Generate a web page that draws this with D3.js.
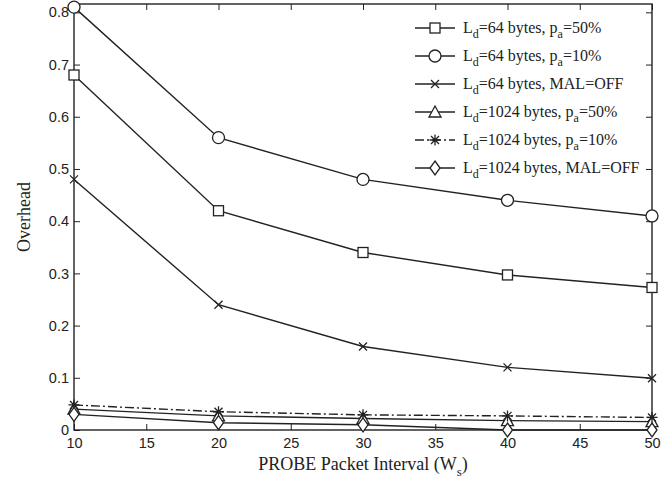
<!DOCTYPE html>
<html>
<head>
<meta charset="utf-8">
<script src="https://cdn.jsdelivr.net/npm/d3@7"></script>
<style>
  body { margin: 0; background: #fff; }
  .axis text { font-family: "Liberation Sans", Arial, sans-serif; font-size: 14.5px; fill: #222; }
  .ttl { font-family: "Liberation Serif", "Times New Roman", serif; fill: #222; }
</style>
</head>
<body>
<div id="chart"></div>
<script>
// probe intervals (x)
var intervals = [10, 20, 30, 40, 50]

// overhead per series
var ld64pa50   = [0.68, 0.42, 0.34, 0.297, 0.273]
var ld64pa10   = [0.81, 0.56, 0.48, 0.44, 0.41]
var ld64off    = [0.48, 0.24, 0.16, 0.12, 0.099]
var ld1024pa50 = [0.040, 0.027, 0.022, 0.018, 0.016]
var ld1024pa10 = [0.048, 0.035, 0.029, 0.027, 0.024]
var ld1024off  = [0.030, 0.014, 0.010, 0.0, 0.0]

var xTicks = [10, 15, 20, 25, 30, 35, 40, 45, 50]
var yTicks = [0, 0.1, 0.2, 0.3, 0.4, 0.5, 0.6, 0.7, 0.8]

var series = [
  { ld: "64",   tail: ["p", "a", "=50%"], vals: ld64pa50,   mark: "square" },
  { ld: "64",   tail: ["p", "a", "=10%"], vals: ld64pa10,   mark: "circle" },
  { ld: "64",   tail: ["MAL=OFF"],        vals: ld64off,    mark: "x" },
  { ld: "1024", tail: ["p", "a", "=50%"], vals: ld1024pa50, mark: "triangle" },
  { ld: "1024", tail: ["p", "a", "=10%"], vals: ld1024pa10, mark: "star", dash: "9,3,2,3" },
  { ld: "1024", tail: ["MAL=OFF"],        vals: ld1024off,  mark: "diamond" }
]

var W = 670, H = 479
var margin = {top: 4, right: 18, bottom: 49, left: 74},
    width  = W - margin.left - margin.right,
    height = H - margin.top - margin.bottom
var ink = "#222"

var svg = d3.select("#chart").append("svg")
  .attr("width", W)
  .attr("height", H)

var g = svg.append("g")
  .attr("transform", "translate(" + margin.left + "," + margin.top + ")")

var x = d3.scaleLinear().domain([10, 50]).range([0, width])
var y = d3.scaleLinear().domain([0, 0.816]).range([height, 0])

// axes, ticks pointing inward like matlab
g.append("g")
  .attr("class", "axis x")
  .attr("transform", "translate(0," + height + ")")
  .call(d3.axisBottom(x).tickValues(xTicks).tickSizeInner(-6).tickSizeOuter(0).tickPadding(8))
g.append("g")
  .attr("class", "axis y")
  .call(d3.axisLeft(y).tickValues(yTicks).tickSizeInner(-6).tickSizeOuter(0).tickPadding(5).tickFormat(d => d === 0 ? "0" : d3.format(".1f")(d)))
g.append("g")
  .attr("class", "axis")
  .call(d3.axisTop(x).tickValues(xTicks).tickSizeInner(-6).tickSizeOuter(0).tickFormat(""))
g.append("g")
  .attr("class", "axis")
  .attr("transform", "translate(" + width + ",0)")
  .call(d3.axisRight(y).tickValues(yTicks).tickSizeInner(-6).tickSizeOuter(0).tickFormat(""))

g.selectAll(".axis path").remove()
g.selectAll(".axis line").attr("stroke", ink).attr("stroke-width", 1)

g.append("rect")
  .attr("width", width)
  .attr("height", height)
  .attr("fill", "none")
  .attr("stroke", ink)
  .attr("stroke-width", 1.4)

function marker(sel, kind) {
  if (kind == "circle") {
    sel.append("circle").attr("r", 6)
  } else if (kind == "square") {
    sel.append("rect").attr("x", -5).attr("y", -5).attr("width", 10).attr("height", 10)
  } else if (kind == "triangle") {
    sel.append("path").attr("d", "M0,-6L6,5L-6,5Z")
  } else if (kind == "diamond") {
    sel.append("path").attr("d", "M0,-7L5,0L0,7L-5,0Z")
  } else if (kind == "x") {
    sel.append("path").attr("d", "M-4,-4L4,4M-4,4L4,-4")
  } else if (kind == "star") {
    sel.append("path").attr("d", "M-5.5,0L5.5,0M0,-5.5L0,5.5M-4,-4L4,4M-4,4L4,-4")
  }
  sel.selectAll("*").attr("fill", "#fff").attr("stroke", ink).attr("stroke-width", 1.3)
}

var line = d3.line()
  .x((d, i) => x(intervals[i]))
  .y(d => y(d))

series.forEach(s => {
  g.append("path")
    .datum(s.vals)
    .attr("fill", "none")
    .attr("stroke", ink)
    .attr("stroke-width", 1.4)
    .attr("stroke-dasharray", s.dash || null)
    .attr("d", line)
  s.vals.forEach((v, i) => {
    var m = g.append("g").attr("transform", "translate(" + x(intervals[i]) + "," + y(v) + ")")
    marker(m, s.mark)
  })
})

// legend, no frame
var lg = svg.append("g").attr("transform", "translate(415,28)")
series.forEach((s, i) => {
  var row = lg.append("g").attr("transform", "translate(0," + (i * 28) + ")")
  row.append("line")
    .attr("x1", 0).attr("x2", 40)
    .attr("stroke", ink).attr("stroke-width", 1.4)
    .attr("stroke-dasharray", s.dash || null)
  marker(row.append("g").attr("transform", "translate(20,0)"), s.mark)
  var t = row.append("text").attr("class", "ttl").attr("x", 48).attr("y", 5).style("font-size", "16px")
  t.append("tspan").text("L")
  t.append("tspan").attr("dy", 5).style("font-size", "12px").text("d")
  t.append("tspan").attr("dy", -5).text("=" + s.ld + " bytes, " + s.tail[0])
  if (s.tail.length > 1) {
    t.append("tspan").attr("dy", 5).style("font-size", "12px").text(s.tail[1])
    t.append("tspan").attr("dy", -5).text(s.tail[2])
  }
})

// titles
var xt = svg.append("text").attr("class", "ttl")
  .attr("x", margin.left + width / 2)
  .attr("y", 470)
  .attr("text-anchor", "middle")
  .style("font-size", "18px")
xt.append("tspan").text("PROBE Packet Interval (W")
xt.append("tspan").attr("dy", 6).style("font-size", "13px").text("s")
xt.append("tspan").attr("dy", -6).text(")")

svg.append("text").attr("class", "ttl")
  .attr("transform", "translate(30," + (margin.top + height / 2) + ") rotate(-90)")
  .attr("text-anchor", "middle")
  .style("font-size", "18px")
  .text("Overhead")
</script>
</body>
</html>
